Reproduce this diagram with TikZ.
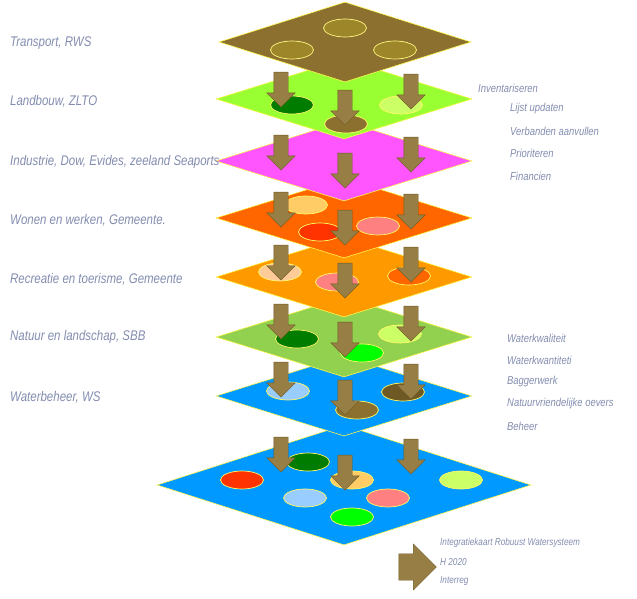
\documentclass[tikz,border=0pt]{standalone}
\usepackage{fontspec}
\setmainfont{Liberation Sans}[FakeStretch=0.82]
\usetikzlibrary{shapes.geometric, shapes.arrows}
\definecolor{bruin}{RGB}{140,112,48}
\definecolor{donkerbruin}{RGB}{110,88,35}
\definecolor{lichtgroen}{RGB}{153,255,51}
\definecolor{roze}{RGB}{255,85,255}
\definecolor{oranje}{RGB}{255,102,0}
\definecolor{geeloranje}{RGB}{255,153,0}
\definecolor{grasgroen}{RGB}{146,208,80}
\definecolor{blauw}{RGB}{0,153,255}
\definecolor{donkergroen}{RGB}{0,125,0}
\definecolor{felgroen}{RGB}{0,255,0}
\definecolor{limoen}{RGB}{204,255,102}
\definecolor{perzik}{RGB}{255,204,102}
\definecolor{zalm}{RGB}{255,204,153}
\definecolor{rood}{RGB}{255,51,0}
\definecolor{rozerood}{RGB}{255,128,128}
\definecolor{hemel}{RGB}{153,204,255}
\definecolor{tekst}{RGB}{130,140,175}
\begin{document}
\begin{tikzpicture}[x=1pt,y=-1pt]
      \tikzstyle{laag} = [diamond, inner sep=0pt, draw=yellow!70, line width=0.6pt]
      \tikzstyle{vlek} = [ellipse, inner sep=0pt, minimum width=43pt, minimum height=18pt, draw=yellow!60!white, line width=0.7pt]
      \tikzstyle{pijl} = [single arrow, shape border rotate=270, minimum height=35pt, minimum width=28pt, inner sep=7pt, single arrow head extend=7pt, single arrow head indent=0pt, fill=bruin!90!white, draw=donkerbruin, line width=0.4pt]
      \tikzstyle{label} = [anchor=west, inner sep=0pt, text=tekst, font=\itshape\fontsize{14}{16}\selectfont]
      \tikzstyle{klein} = [font=\itshape\fontsize{11.5}{13}\selectfont]
      \useasboundingbox (0,0) rectangle (637,599);
      % lagen, van onder naar boven
      \node[laag, fill=blauw, minimum width=374pt, minimum height=120pt] (kaart) at (344,485) {};
      \node[vlek, fill=donkergroen] (k-a) at (308,462) {};
      \node[vlek, fill=rood] (k-b) at (242,480) {};
      \node[vlek, fill=perzik] (k-c) at (352,480) {};
      \node[vlek, fill=limoen] (k-d) at (461,480) {};
      \node[vlek, fill=hemel] (k-e) at (305,498) {};
      \node[vlek, fill=rozerood] (k-f) at (388,498) {};
      \node[vlek, fill=felgroen] (k-g) at (352,517) {};
      \node[laag, fill=blauw, minimum width=256pt, minimum height=80pt] (water) at (344,396) {};
      \node[vlek, fill=hemel] (w-a) at (288,391) {};
      \node[vlek, fill=bruin] (w-b) at (357,410) {};
      \node[vlek, fill=donkerbruin] (w-c) at (403,392) {};
      \node[laag, fill=grasgroen, minimum width=256pt, minimum height=80pt] (natuur) at (344,337) {};
      \node[vlek, fill=donkergroen] (n-a) at (297,339) {};
      \node[vlek, fill=felgroen] (n-b) at (362,353) {};
      \node[vlek, fill=limoen] (n-c) at (400,334) {};
      \node[laag, fill=geeloranje, minimum width=256pt, minimum height=80pt] (recreatie) at (344,277) {};
      \node[vlek, fill=zalm] (r-a) at (280,272) {};
      \node[vlek, fill=rozerood] (r-b) at (337,282) {};
      \node[vlek, fill=oranje] (r-c) at (409,276) {};
      \node[laag, fill=oranje, minimum width=256pt, minimum height=80pt] (wonen) at (344,218) {};
      \node[vlek, fill=perzik] (o-a) at (306,205) {};
      \node[vlek, fill=rood] (o-b) at (320,232) {};
      \node[vlek, fill=rozerood] (o-c) at (378,226) {};
      \node[laag, fill=roze, minimum width=256pt, minimum height=80pt] (industrie) at (344,161) {};
      \node[laag, fill=lichtgroen, minimum width=256pt, minimum height=80pt] (landbouw) at (344,99) {};
      \node[vlek, fill=donkergroen] (l-a) at (292,105) {};
      \node[vlek, fill=bruin] (l-b) at (346,124) {};
      \node[vlek, fill=limoen] (l-c) at (401,105) {};
      \node[laag, fill=bruin, minimum width=252pt, minimum height=80pt] (transport) at (345,42) {};
      \node[vlek, fill=bruin!85!yellow, draw=yellow!50!white] (t-a) at (345,28) {};
      \node[vlek, fill=bruin!85!yellow, draw=yellow!50!white] (t-b) at (292,50) {};
      \node[vlek, fill=bruin!85!yellow, draw=yellow!50!white] (t-c) at (395,50) {};
      % pijlen
      \foreach \y [count=\i] in {86,149,206,259,318,376,451} {
        \node[pijl] (p-\i-l) at (281,\y) {};
        \node[pijl] (p-\i-m) at (345,\y+18) {};
        \node[pijl] (p-\i-r) at (411,\y+2) {};
      }
      \node[pijl, shape border rotate=0, minimum height=23pt, minimum width=46pt, inner sep=12pt, single arrow head extend=9pt] (legenda) at (411,567) {};
      % teksten
      \node[label] (t1) at (10,43) {Transport, RWS};
      \node[label] (t2) at (10,101) {Landbouw, ZLTO};
      \node[label] (t3) at (10,162) {Industrie, Dow, Evides, zeeland Seaports};
      \node[label] (t4) at (10,220) {Wonen en werken, Gemeente.};
      \node[label] (t5) at (10,279) {Recreatie en toerisme, Gemeente};
      \node[label] (t6) at (10,337) {Natuur en landschap, SBB};
      \node[label] (t7) at (10,397) {Waterbeheer, WS};
      \node[label, klein] (inv) at (478,88) {Inventariseren};
      \foreach \tt [count=\i] in {Lijst updaten, Verbanden aanvullen, Prioriteren, Financien}
        \node[label, klein] (inv-\i) at (510,86+22.5*\i) {\tt};
      \foreach \tt [count=\i] in {Waterkwaliteit, Waterkwantiteti, Baggerwerk, Natuurvriendelijke oevers, Beheer}
        \node[label, klein] (wb-\i) at (507,316+22*\i) {\tt};
      \node[label, font=\itshape\fontsize{10}{12}\selectfont] (leg-1) at (440,543) {Integratiekaart Robuust Watersysteem};
      \node[label, font=\itshape\fontsize{10}{12}\selectfont] (leg-2) at (440,562) {H 2020};
      \node[label, font=\itshape\fontsize{10}{12}\selectfont] (leg-3) at (440,581) {Interreg};
  \end{tikzpicture}
\end{document}
